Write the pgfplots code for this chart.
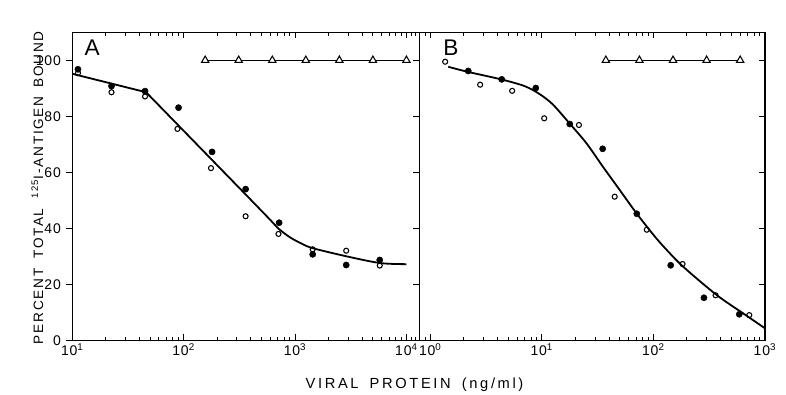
\documentclass[border=0pt]{standalone}
\usepackage{pgfplots}
\pgfplotsset{compat=1.18}
\usepackage{fontspec}
\setmainfont{Liberation Sans}
\tikzset{
  myfilled/.style={only marks, mark=*, mark size=2.3pt, mark options={fill=black, draw=black}},
  myopen/.style={only marks, mark=o, mark size=1.9pt, mark options={line width=0.8pt, fill=white}},
  mytri/.style={line width=1.0pt, black, mark=triangle*, mark size=3.2pt, mark options={fill=white, draw=black, line width=0.8pt}},
  mycurve/.style={line width=1.35pt, black},
}
\begin{document}
\begin{tikzpicture}[x=1pt,y=1pt]
\path[use as bounding box] (0,0) rectangle (589.5,296.25);
% helper: outward y ticks on the left of panel A
\begin{axis}[scale only axis, xmode=log, ymin=0, ymax=110, xmin=10, xmax=13100,
  height=231pt, width=260.4pt, anchor=south west, at={(54.2pt,41.0pt)},
  tick align=outside, major tick length=4.5pt,
  tick style={black, line width=0.7pt},
  xtick=\empty, ytick={0,20,40,60,80,100}, ytick pos=left, yticklabels={},
  axis line style={draw=none},
]
\addplot[draw=none] coordinates {(100,50)};
\end{axis}
% ---------- Panel A ----------
\begin{axis}[scale only axis, xmode=log, ymin=0, ymax=110, xmin=10, xmax=13100,
  height=231pt, width=260.4pt, anchor=south west, at={(54.2pt,41.0pt)},
  tick align=inside, xtick pos=both,
  major tick length=4.5pt, minor tick length=2.6pt,
  axis line style={line width=0.9pt},
  tick style={black, line width=0.7pt},
  tick label style={font=\fontsize{10.5}{11}\selectfont\addfontfeatures{LetterSpace=6}},
  xticklabel style={yshift=1pt},
  xtick={10,100,1000,10000},
  xticklabels={10\textsuperscript{1},10\textsuperscript{2},10\textsuperscript{3},10\textsuperscript{4}},
  minor xtick={20,30,40,50,60,70,80,90,200,300,400,500,600,700,800,900,2000,3000,4000,5000,6000,7000,8000,9000,11000,12000,13000},
  ytick={0,20,40,60,80,100},
  ytick pos=right, yticklabel pos=left,
  yticklabels={0,20,40,60,80,100},
  yticklabel style={xshift=-5pt},
]
\addplot[mycurve] coordinates {(10,95.2) (46,88.6) (90,76.7) (180,64.4) (360,52.1) (600,43.0)};
\addplot[mycurve, smooth, tension=0.5] coordinates {(600,43.0) (720,39.7) (900,36.8) (1100,34.9) (1416,33.0) (2900,30.0) (5800,27.6) (10000,27.2)};
\addplot[mytri] coordinates {(156,100) (312,100) (625,100) (1250,100) (2500,100) (5000,100) (10000,100)};
\addplot[myopen] coordinates {(11.25,95.4) (22.5,88.6) (45,87.1) (88,75.5) (176,61.5) (360,44.3) (710,38.0) (1440,32.5) (2880,32.0) (5760,26.7)};
\addplot[myfilled] coordinates {(11.25,96.8) (22.5,90.8) (45,89.0) (90,83.1) (180,67.3) (360,54.0) (720,42.0) (1440,30.7) (2880,26.9) (5760,28.7)};
\node[anchor=base, font=\fontsize{17}{17}\selectfont] at (rel axis cs:0.057,0.926) {A};
\end{axis}
% ---------- Panel B ----------
\begin{axis}[scale only axis, xmode=log, ymin=0, ymax=110, xmin=0.8, xmax=1000,
  height=231pt, width=259.1pt, anchor=south west, at={(314.6pt,41.0pt)},
  tick align=inside, xtick pos=both,
  major tick length=4.5pt, minor tick length=2.6pt,
  axis line style={line width=0.9pt},
  tick style={black, line width=0.7pt},
  tick label style={font=\fontsize{10.5}{11}\selectfont\addfontfeatures{LetterSpace=6}},
  xticklabel style={yshift=1pt},
  xtick={1,10,100,1000},
  xticklabels={10\textsuperscript{0},10\textsuperscript{1},10\textsuperscript{2},10\textsuperscript{3}},
  minor xtick={0.8,0.9,2,3,4,5,6,7,8,9,20,30,40,50,60,70,80,90,200,300,400,500,600,700,800,900},
  ytick={0,20,40,60,80,100},
  ytick pos=right, yticklabels={},
]
\addplot[mycurve, smooth, tension=0.5] coordinates {(1.45,97.7) (2.16,95.9) (4.32,93.2) (7.0,90.8) (9.5,88.0) (12.5,84.3) (17.7,77.5) (25.1,70.4) (35.3,62.0) (49.9,53.7) (70.5,45.4) (100,37.7) (126.7,33.0) (185,26.3) (369,16.2) (640,9.6) (1000,4.3)};
\addplot[mytri] coordinates {(37.5,100) (75,100) (150,100) (300,100) (600,100)};
\addplot[myopen] coordinates {(1.36,99.5) (2.80,91.3) (5.42,89.1) (10.5,79.3) (21.5,76.9) (45,51.3) (87.3,39.5) (182.5,27.25) (361,16.1) (724,9.0)};
\addplot[myfilled] coordinates {(2.19,96.2) (4.37,93.2) (8.83,90.1) (17.8,77.25) (35.1,68.4) (71,45.2) (143,26.8) (284,15.2) (589,9.3)};
\node[anchor=base, font=\fontsize{17}{17}\selectfont] at (rel axis cs:0.091,0.926) {B};
\end{axis}
% ---------- axis titles ----------
\node[anchor=base, inner sep=0pt, rotate=90, font=\fontsize{10.2}{11}\selectfont\addfontfeatures{LetterSpace=13}] at (32.25,155.5) {PERCENT\hspace{0.35em} TOTAL\hspace{0.35em} \textsuperscript{125}I-ANTIGEN\hspace{0.25em} BOUND};
\node[anchor=base, font=\fontsize{11}{12}\selectfont\addfontfeatures{LetterSpace=18}] at (310.9,4.5) {VIRAL\hspace{0.3em} PROTEIN\hspace{0.3em} (ng/ml)};
\end{tikzpicture}
\end{document}
